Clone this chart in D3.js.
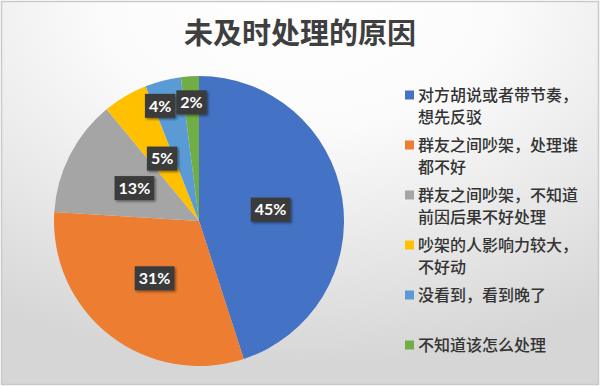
<!DOCTYPE html>
<html>
<head>
<meta charset="utf-8">
<script src="https://cdn.jsdelivr.net/npm/d3@7"></script>
<style>
  html, body { margin: 0; padding: 0; background: #fff; }
  svg { display: block; }
</style>
</head>
<body>
<script>
// chart data
var title = "未及时处理的原因";
var categories = [
  "对方胡说或者带节奏，想先反驳",
  "群友之间吵架，处理谁都不好",
  "群友之间吵架，不知道前因后果不好处理",
  "吵架的人影响力较大，不好动",
  "没看到，看到晚了",
  "不知道该怎么处理"
];
var values = [45, 31, 13, 5, 4, 2];
var colors = ["#4472C4", "#ED7D31", "#A5A5A5", "#FFC000", "#5B9BD5", "#70AD47"];

var width = 600, height = 386;
var cx = 199, cy = 221, radius = 145;

var svg = d3.select("body").append("svg")
  .attr("width", width)
  .attr("height", height);

var defs = svg.append("defs");
var grad = defs.append("radialGradient")
  .attr("id", "bg")
  .attr("cx", "50%").attr("cy", "0%")
  .attr("r", "95%")
  .attr("gradientUnits", "objectBoundingBox");
grad.append("stop").attr("offset", "0%").attr("stop-color", "#ffffff");
grad.append("stop").attr("offset", "35%").attr("stop-color", "#fbfbfb");
grad.append("stop").attr("offset", "100%").attr("stop-color", "#d6d6d6");

var shadow = defs.append("filter").attr("id", "shadow")
  .attr("x", "-30%").attr("y", "-30%").attr("width", "170%").attr("height", "170%");
shadow.append("feDropShadow")
  .attr("dx", 1.5).attr("dy", 1.5).attr("stdDeviation", 1.2)
  .attr("flood-color", "#000").attr("flood-opacity", 0.45);

// background + frame
svg.append("rect")
  .attr("x", 1.5).attr("y", 1.5)
  .attr("width", width - 3).attr("height", height - 3)
  .attr("fill", "url(#bg)")
  .attr("stroke", "#c9c9c9")
  .attr("stroke-width", 1.5);

// title
svg.append("text")
  .attr("x", 300).attr("y", 44)
  .attr("text-anchor", "middle")
  .attr("font-family", "Noto Sans CJK SC")
  .attr("font-weight", "bold")
  .attr("font-size", 29)
  .attr("fill", "#3f3f3f")
  .text(title);

// pie
var pie = d3.pie().sort(null).value(function(d) { return d; });
var arcs = pie(values);
var arc = d3.arc().innerRadius(0).outerRadius(radius);
var labelArc = d3.arc().innerRadius(radius * 0.5).outerRadius(radius * 0.5);
var outerLabelArc = d3.arc().innerRadius(radius * 0.82).outerRadius(radius * 0.82);

var g = svg.append("g").attr("transform", "translate(" + cx + "," + cy + ")");

g.selectAll("path.slice")
  .data(arcs)
  .enter().append("path")
  .attr("class", "slice")
  .attr("d", arc)
  .attr("fill", function(d, i) { return colors[i]; });

// data labels (small slices pushed outward, then un-overlapped)
var labels = g.selectAll("g.lbl")
  .data(arcs)
  .enter().append("g")
  .attr("class", "lbl");

var boxes = labels.append("rect")
  .attr("fill", "#3a3a3a")
  .attr("filter", "url(#shadow)");

var texts = labels.append("text")
  .attr("text-anchor", "middle")
  .attr("dy", "0.36em")
  .attr("font-family", "Lato")
  .attr("font-weight", "bold")
  .attr("font-size", 16)
  .attr("fill", "#ffffff")
  .text(function(d) { return d.data + "%"; });

var pos = [];
texts.each(function(d, i) {
  var w = this.getComputedTextLength() + 8;
  d3.select(boxes.nodes()[i])
    .attr("x", -w / 2).attr("y", -12)
    .attr("width", w).attr("height", 24);
  var p = (d.data < 5 ? outerLabelArc : labelArc).centroid(d);
  pos.push({ i: i, x: p[0], y: p[1], w: w, small: d.data < 5 });
});

// push overlapping small labels apart to the left
var small = pos.filter(function(p) { return p.small; })
  .sort(function(a, b) { return b.x - a.x; });
for (var k = 1; k < small.length; k++) {
  var right = small[k - 1], left = small[k];
  var overlap = (left.x + left.w / 2) - (right.x - right.w / 2) + 1;
  if (overlap > 0) left.x -= overlap;
}

labels.attr("transform", function(d, i) {
  return "translate(" + pos[i].x + "," + pos[i].y + ")";
});

// legend
var legend = svg.append("g").attr("class", "legend");
var items = legend.selectAll("g.item")
  .data(categories)
  .enter().append("g")
  .attr("class", "item")
  .attr("transform", function(d, i) { return "translate(405," + (95 + i * 50) + ")"; });

items.append("rect")
  .attr("x", 0).attr("y", -4.5)
  .attr("width", 9).attr("height", 9)
  .attr("fill", function(d, i) { return colors[i]; });

items.append("text")
  .attr("font-family", "Noto Sans CJK SC")
  .attr("font-weight", 500)
  .attr("font-size", 16)
  .attr("fill", "#333333")
  .each(function(d) {
    var lines = [];
    for (var k = 0; k < d.length; k += 10) lines.push(d.slice(k, k + 10));
    var t = d3.select(this);
    lines.forEach(function(line, j) {
      t.append("tspan")
        .attr("x", 13)
        .attr("y", j * 22)
        .attr("dy", "0.36em")
        .text(line);
    });
  });
</script>
</body>
</html>
